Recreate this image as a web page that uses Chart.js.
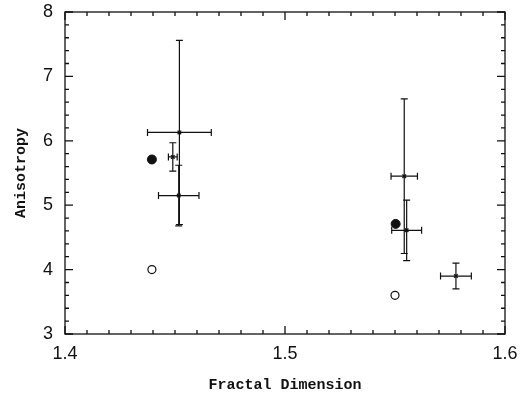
<!DOCTYPE html>
<html>
<head>
<meta charset="utf-8">
<script src="https://cdn.jsdelivr.net/npm/chart.js@4"></script>
<style>
  html, body { margin: 0; padding: 0; background: #fff; }
</style>
</head>
<body>
<canvas id="chart" width="522" height="397"></canvas>
<script>
// measured points with error bars (x markers)
const xVals = [1.452, 1.449, 1.4517, 1.5542, 1.5553, 1.5777];
const yVals = [6.13, 5.75, 5.15, 5.45, 4.61, 3.90];
const xErr = [0.0145, 0.002, 0.0092, 0.006, 0.0068, 0.007];
const yErr = [1.43, 0.22, 0.47, 1.2, 0.47, 0.2];

// filled and open circles
const filledX = [1.4395, 1.5503];
const filledY = [5.71, 4.71];
const openX = [1.4395, 1.55];
const openY = [4.0, 3.6];

const xTicks = [1.4, 1.5, 1.6];
const yTicks = [3, 4, 5, 6, 7, 8];

const ink = '#111';

const errorBars = {
  id: 'errorBars',
  beforeDatasetsDraw(chart) {
    const { ctx, scales: { x, y } } = chart;
    const cap = 3.5;
    ctx.save();
    ctx.strokeStyle = ink;
    ctx.lineWidth = 1.2;
    xVals.forEach((xv, i) => {
      const px = x.getPixelForValue(xv);
      const py = y.getPixelForValue(yVals[i]);
      const top = y.getPixelForValue(yVals[i] + yErr[i]);
      const bot = y.getPixelForValue(yVals[i] - yErr[i]);
      const left = x.getPixelForValue(xv - xErr[i]);
      const right = x.getPixelForValue(xv + xErr[i]);
      ctx.beginPath();
      ctx.moveTo(px, top); ctx.lineTo(px, bot);
      ctx.moveTo(px - cap, top); ctx.lineTo(px + cap, top);
      ctx.moveTo(px - cap, bot); ctx.lineTo(px + cap, bot);
      ctx.moveTo(left, py); ctx.lineTo(right, py);
      ctx.moveTo(left, py - cap); ctx.lineTo(left, py + cap);
      ctx.moveTo(right, py - cap); ctx.lineTo(right, py + cap);
      ctx.stroke();
    });
    ctx.restore();
  }
};

const frameTicks = {
  id: 'frameTicks',
  afterDraw(chart) {
    const { ctx, chartArea: a, scales: { x, y } } = chart;
    ctx.save();
    ctx.strokeStyle = ink;
    ctx.lineWidth = 1.3;
    ctx.strokeRect(a.left, a.top, a.right - a.left, a.bottom - a.top);
    ctx.beginPath();
    for (let k = 0; k <= 20; k++) {
      const px = x.getPixelForValue(1.4 + k * 0.01);
      const len = k % 10 === 0 ? 8 : 4;
      ctx.moveTo(px, a.bottom); ctx.lineTo(px, a.bottom - len);
      ctx.moveTo(px, a.top); ctx.lineTo(px, a.top + len);
    }
    for (let k = 0; k <= 25; k++) {
      const py = y.getPixelForValue(3 + k * 0.2);
      const len = k % 5 === 0 ? 8 : 4;
      ctx.moveTo(a.left, py); ctx.lineTo(a.left + len, py);
      ctx.moveTo(a.right, py); ctx.lineTo(a.right - len, py);
    }
    ctx.stroke();
    ctx.restore();
  }
};

// keep the plot box where the layout padding puts it
const noOverhang = (s) => {
  s.paddingTop = 0; s.paddingBottom = 0; s.paddingLeft = 0; s.paddingRight = 0;
};

new Chart(document.getElementById('chart'), {
  type: 'scatter',
  data: {
    datasets: [
      {
        label: 'measured',
        data: xVals.map((v, i) => ({ x: v, y: yVals[i] })),
        pointStyle: 'crossRot',
        pointRadius: 2.5,
        borderColor: ink,
        borderWidth: 1.3,
      },
      {
        label: 'filled',
        data: filledX.map((v, i) => ({ x: v, y: filledY[i] })),
        pointStyle: 'circle',
        pointRadius: 4.5,
        backgroundColor: ink,
        borderColor: ink,
      },
      {
        label: 'open',
        data: openX.map((v, i) => ({ x: v, y: openY[i] })),
        pointStyle: 'circle',
        pointRadius: 4,
        backgroundColor: '#fff',
        borderColor: ink,
        borderWidth: 1.2,
      },
    ],
  },
  options: {
    responsive: false,
    animation: false,
    layout: { padding: { top: 12, right: 17, left: 0, bottom: 3 } },
    plugins: {
      legend: { display: false },
      tooltip: { enabled: false },
    },
    scales: {
      x: {
        type: 'linear',
        min: 1.4,
        max: 1.6,
        afterBuildTicks: (s) => { s.ticks = xTicks.map((v) => ({ value: v })); },
        afterFit: (s) => { s.height = 60; noOverhang(s); },
        grid: { display: false, drawTicks: false },
        border: { display: false },
        ticks: {
          padding: 9,
          color: ink,
          font: { family: 'Liberation Sans', size: 18 },
          callback: (v) => v.toFixed(1),
        },
        title: {
          display: true,
          text: 'Fractal Dimension',
          color: ink,
          font: { family: 'Liberation Mono', size: 15, weight: 'bold' },
          padding: { top: 10, bottom: 0 },
        },
      },
      y: {
        type: 'linear',
        min: 3,
        max: 8,
        afterBuildTicks: (s) => { s.ticks = yTicks.map((v) => ({ value: v })); },
        afterFit: (s) => { s.width = 65; noOverhang(s); },
        grid: { display: false, drawTicks: false },
        border: { display: false },
        ticks: {
          padding: 12,
          color: ink,
          font: { family: 'Liberation Sans', size: 18 },
        },
        title: {
          display: true,
          text: 'Anisotropy',
          color: ink,
          font: { family: 'Liberation Mono', size: 15, weight: 'bold' },
          padding: { top: 12, bottom: 0 },
        },
      },
    },
  },
  plugins: [errorBars, frameTicks],
});
</script>
</body>
</html>
